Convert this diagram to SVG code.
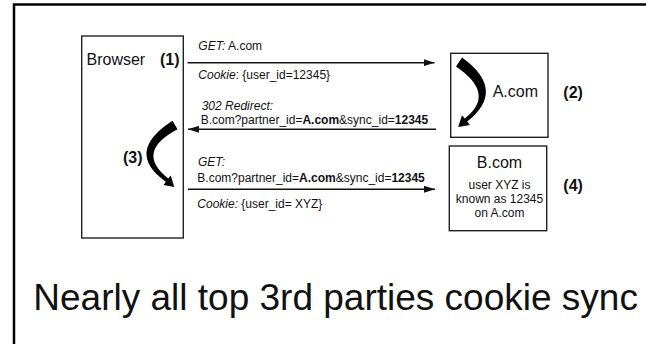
<svg xmlns="http://www.w3.org/2000/svg" width="646" height="344" viewBox="0 0 646 344">
  <defs>
    <style>
      .box { fill: #fff; stroke: #222; stroke-width: 1.4; }
      .t { font-family: "Liberation Sans", Arial, sans-serif; fill: #111; }
      .s { font-size: 12px; }
      .b { font-size: 16px; }
      .bold { font-weight: bold; }
      .it { font-style: italic; }
      .conn { stroke: #111; stroke-width: 1.4; fill: none; marker-end: url(#ah); }
      .curve { fill: #000; }
    </style>
    <marker id="ah" markerWidth="11" markerHeight="7" refX="11" refY="3.5" orient="auto" markerUnits="userSpaceOnUse">
      <path d="M0,0 L11,3.5 L0,7 Z" fill="#111"/>
    </marker>
  </defs>

  <rect width="646" height="344" fill="#fff"/>
  <rect id="frame" x="14" y="4.5" width="660" height="360" fill="none" stroke="#000" stroke-width="2.5"/>

  <g id="browser">
    <rect class="box" x="81.7" y="36" width="101.6" height="202"/>
    <text class="t b" x="86.5" y="65">Browser</text>
    <text class="t b bold" x="160" y="65">(1)</text>
    <text class="t b bold" x="123" y="163">(3)</text>
    <path class="curve" d="M 172.5,120.8 Q 124,152 165.8,181.8 L 163.6,185 L 174.2,187 L 170.8,175.5 L 168.2,178.4 Q 134.5,152 177.5,129.2 Z"/>
  </g>

  <g id="acom">
    <rect class="box" x="450.7" y="53.3" width="97.3" height="84"/>
    <text class="t b" x="492.7" y="97.3">A.com</text>
    <path class="curve" d="M 462,57.5 Q 507,90 467.2,121.6 L 470,125 L 458.2,127 L 462,115.2 L 464.8,118.4 Q 496.5,94 456,66.5 Z"/>
  </g>
  <text id="label2" class="t b bold" x="563.3" y="98.3">(2)</text>

  <g id="bcom">
    <rect class="box" x="449.3" y="146" width="97.4" height="84.7"/>
    <text class="t b" x="499.5" y="168.3" text-anchor="middle">B.com</text>
    <text class="t s" x="499.5" y="189" text-anchor="middle">user XYZ is</text>
    <text class="t s" x="499.5" y="203.3" text-anchor="middle">known as 12345</text>
    <text class="t s" x="499.5" y="216.7" text-anchor="middle">on A.com</text>
  </g>
  <text id="label4" class="t b bold" x="563.3" y="190.5">(4)</text>

  <g id="connectors">
    <line class="conn" x1="187.5" y1="62.7" x2="434.5" y2="62.7"/>
    <line class="conn" x1="436" y1="129.3" x2="188" y2="129.3"/>
    <line class="conn" x1="188" y1="189.3" x2="435" y2="189.3"/>

    <text class="t s" x="198.3" y="50"><tspan class="it">GET:</tspan> A.com</text>
    <text class="t s" x="198.3" y="79"><tspan class="it">Cookie</tspan>: {user_id=12345}</text>

    <text class="t s it" x="201.7" y="110">302 Redirect:</text>
    <text class="t s" x="200.7" y="123.5">B.com?partner_id=<tspan class="bold">A.com</tspan>&amp;sync_id=<tspan class="bold">12345</tspan></text>

    <text class="t s it" x="198" y="166">GET:</text>
    <text class="t s" x="197.3" y="181.7">B.com?partner_id=<tspan class="bold">A.com</tspan>&amp;sync_id=<tspan class="bold">12345</tspan></text>
    <text class="t s" x="197.3" y="208.3"><tspan class="it">Cookie:</tspan> {user_id= XYZ}</text>
  </g>

  <text id="caption" class="t" x="33.3" y="310" font-size="37">Nearly all top 3rd parties cookie sync</text>
</svg>
